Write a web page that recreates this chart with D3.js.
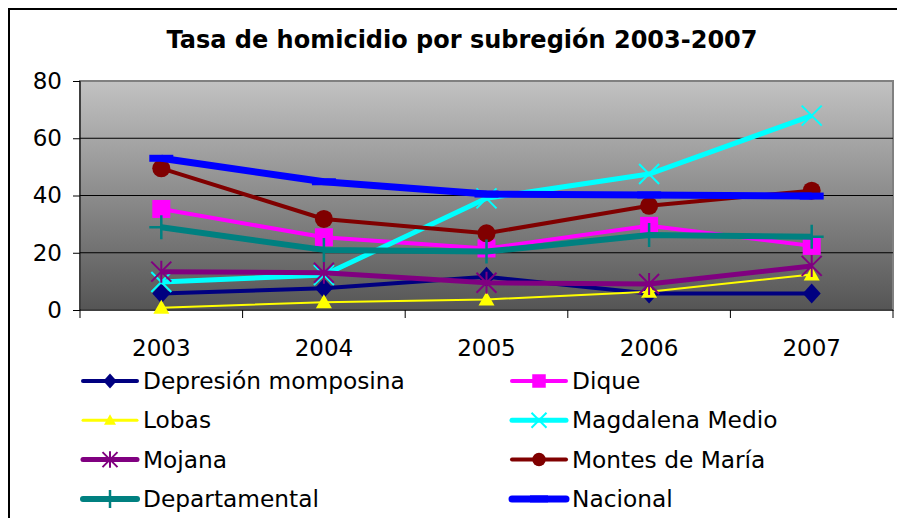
<!DOCTYPE html>
<html>
<head>
<meta charset="utf-8">
<script src="https://cdn.jsdelivr.net/npm/d3@7"></script>
<style>
  body { margin: 0; background: #fff; }
  svg { display: block; font-family: 'DejaVu Sans', Verdana, sans-serif; }
</style>
</head>
<body>
<div id="chart"></div>
<script>
const years = ['2003', '2004', '2005', '2006', '2007'];
const yTicks = [0, 20, 40, 60, 80];

const depresionMomposina = [5.8, 7.6, 11.6, 5.8, 5.8];
const dique = [35.3, 25.4, 21.5, 29.4, 22.4];
const lobas = [0.8, 2.7, 3.7, 6.4, 12.4];
const magdalenaMedio = [9.8, 12.2, 39, 47.5, 67.9];
const mojana = [13.4, 13.0, 9.5, 9.1, 15.4];
const montesDeMaria = [49.5, 31.8, 26.8, 36.4, 41.7];
const departamental = [28.9, 21, 20.4, 26.2, 25.6];
const nacional = [53, 44.8, 40.5, 40.2, 39.8];

// series in draw order (later ones sit on top)
const series = [
  { name: 'Depresión momposina', values: depresionMomposina, color: '#000080', width: 4, marker: 'diamond' },
  { name: 'Dique', values: dique, color: '#ff00ff', width: 4, marker: 'square' },
  { name: 'Lobas', values: lobas, color: '#ffff00', width: 2, marker: 'triangle' },
  { name: 'Magdalena Medio', values: magdalenaMedio, color: '#00ffff', width: 5, marker: 'x' },
  { name: 'Mojana', values: mojana, color: '#800080', width: 5, marker: 'star' },
  { name: 'Montes de María', values: montesDeMaria, color: '#800000', width: 4, marker: 'circle' },
  { name: 'Departamental', values: departamental, color: '#008080', width: 6, marker: 'plus' },
  { name: 'Nacional', values: nacional, color: '#0000ff', width: 7, marker: 'dash' }
];

const width = 897;
const height = 518;
const plot = { left: 80, right: 893, top: 81, bottom: 310 };

const svg = d3.select('#chart').append('svg')
  .attr('width', width)
  .attr('height', height);

// outer frame (only top and left edges are visible in the crop)
svg.append('path')
  .attr('d', `M9,${height} V9 H${width}`)
  .attr('fill', 'none')
  .attr('stroke', '#000')
  .attr('stroke-width', 2);

svg.append('text')
  .attr('x', 462)
  .attr('y', 48)
  .attr('text-anchor', 'middle')
  .style('font-size', '24px')
  .style('font-weight', 'bold')
  .text('Tasa de homicidio por subregión 2003-2007');

const x = d3.scaleBand().domain(years).range([plot.left, plot.right]).padding(0);
const y = d3.scaleLinear().domain([0, 80]).range([plot.bottom, plot.top]);

const defs = svg.append('defs');
const grad = defs.append('linearGradient')
  .attr('id', 'bg')
  .attr('x1', 0).attr('y1', 0).attr('x2', 0).attr('y2', 1);
grad.append('stop').attr('offset', '0%').attr('stop-color', '#c2c2c2');
grad.append('stop').attr('offset', '100%').attr('stop-color', '#555555');

svg.append('rect')
  .attr('x', plot.left)
  .attr('y', plot.top)
  .attr('width', plot.right - plot.left)
  .attr('height', plot.bottom - plot.top)
  .attr('fill', 'url(#bg)')
  .attr('stroke', '#808080')
  .attr('stroke-width', 2);

// gridlines
svg.append('g')
  .selectAll('line')
  .data(yTicks.filter(d => d > 0 && d < 80))
  .join('line')
  .attr('x1', plot.left)
  .attr('x2', plot.right)
  .attr('y1', d => y(d))
  .attr('y2', d => y(d))
  .attr('stroke', '#000')
  .attr('stroke-width', 1);

// y axis
const yAxis = svg.append('g')
  .attr('transform', `translate(${plot.left},0)`)
  .call(d3.axisLeft(y).tickValues(yTicks).tickSize(7).tickPadding(11));
yAxis.select('.domain').remove();
yAxis.selectAll('line').attr('stroke', '#000');
yAxis.selectAll('text')
  .style('font-size', '23px')
  .style('font-family', "'DejaVu Sans', Verdana, sans-serif")
  .attr('fill', '#000');

svg.append('line')
  .attr('x1', plot.left).attr('x2', plot.left)
  .attr('y1', plot.top).attr('y2', plot.bottom + 8)
  .attr('stroke', '#000');

// x axis: ticks sit between categories
svg.append('line')
  .attr('x1', plot.left).attr('x2', plot.right)
  .attr('y1', plot.bottom).attr('y2', plot.bottom)
  .attr('stroke', '#000');

svg.append('g')
  .selectAll('line')
  .data(years.slice(1).concat(['end']))
  .join('line')
  .attr('x1', (d, i) => plot.left + x.bandwidth() * (i + 1))
  .attr('x2', (d, i) => plot.left + x.bandwidth() * (i + 1))
  .attr('y1', plot.bottom)
  .attr('y2', plot.bottom + 8)
  .attr('stroke', '#000');

svg.append('g')
  .selectAll('text')
  .data(years)
  .join('text')
  .attr('x', d => x(d) + x.bandwidth() / 2)
  .attr('y', 356)
  .attr('text-anchor', 'middle')
  .style('font-size', '23px')
  .text(d => d);

// marker drawing
function drawMarker(g, type, color, s) {
  if (type === 'diamond') {
    g.append('path')
      .attr('d', `M0,${-10 * s} L${9 * s},0 L0,${10 * s} L${-9 * s},0 Z`)
      .attr('fill', color);
  } else if (type === 'square') {
    g.append('rect')
      .attr('x', -9 * s).attr('y', -9 * s)
      .attr('width', 18 * s).attr('height', 18 * s)
      .attr('fill', color);
  } else if (type === 'triangle') {
    g.append('path')
      .attr('d', `M0,${-8 * s} L${8 * s},${6 * s} L${-8 * s},${6 * s} Z`)
      .attr('fill', color);
  } else if (type === 'circle') {
    g.append('circle').attr('r', 9 * s).attr('fill', color);
  } else if (type === 'x') {
    g.append('path')
      .attr('d', `M${-10 * s},${-10 * s} L${10 * s},${10 * s} M${10 * s},${-10 * s} L${-10 * s},${10 * s}`)
      .attr('stroke', color).attr('stroke-width', 2);
  } else if (type === 'star') {
    const r = 10 * s;
    g.append('path')
      .attr('d', `M${-r},${-r} L${r},${r} M${r},${-r} L${-r},${r} M0,${-r * 1.1} L0,${r * 1.1}`)
      .attr('stroke', color).attr('stroke-width', 2);
  } else if (type === 'plus') {
    g.append('path')
      .attr('d', `M${-12 * s},0 L${12 * s},0 M0,${-12 * s} L0,${12 * s}`)
      .attr('stroke', color).attr('stroke-width', 2.5);
  } else if (type === 'dash') {
    g.append('path')
      .attr('d', `M${-12 * s},0 L${12 * s},0`)
      .attr('stroke', color).attr('stroke-width', 7);
  }
}

const line = d3.line()
  .x((d, i) => x(years[i]) + x.bandwidth() / 2)
  .y(d => y(d));

series.forEach(s => {
  const g = svg.append('g');
  g.append('path')
    .datum(s.values)
    .attr('d', line)
    .attr('fill', 'none')
    .attr('stroke', s.color)
    .attr('stroke-width', s.width)
    .attr('stroke-linejoin', 'round');
  s.values.forEach((v, i) => {
    const m = g.append('g')
      .attr('transform', `translate(${x(years[i]) + x.bandwidth() / 2},${y(v)})`);
    drawMarker(m, s.marker, s.color, 1);
  });
});

// legend, two columns
const legend = svg.append('g');
series.forEach((s, i) => {
  const col = i % 2;
  const row = Math.floor(i / 2);
  const lx = col === 0 ? 83 : 512;
  const ly = 381 + row * 39.3;
  const item = legend.append('g').attr('transform', `translate(${lx},${ly})`);
  item.append('line')
    .attr('x1', 0).attr('x2', 54)
    .attr('stroke', s.color)
    .attr('stroke-width', Math.max(s.width, 3))
    .attr('stroke-linecap', 'round');
  const m = item.append('g').attr('transform', 'translate(27,0)');
  drawMarker(m, s.marker, s.color, 0.75);
  item.append('text')
    .attr('x', 60)
    .attr('y', 8)
    .style('font-size', '23.3px')
    .text(s.name);
});
</script>
</body>
</html>
